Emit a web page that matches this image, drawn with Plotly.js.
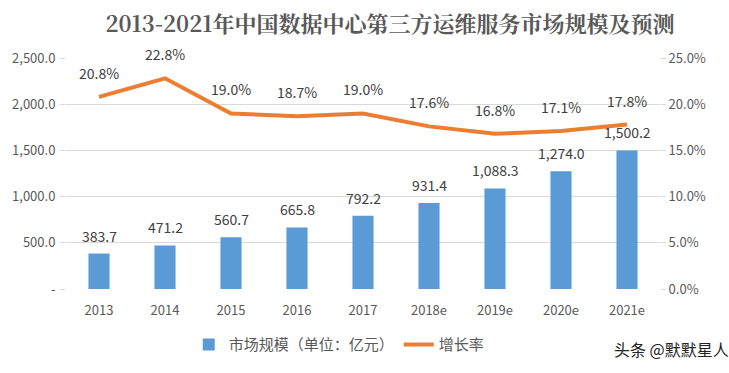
<!DOCTYPE html>
<html><head><meta charset="utf-8">
<script src="https://cdn.plot.ly/plotly-3.0.1.min.js"></script>
<style>body{margin:0;background:#fff}#c{width:729px;height:373px}</style>
</head><body><div id="c"></div>
<script>
const categories = ["2013","2014","2015","2016","2017","2018e","2019e","2020e","2021e"];
const marketSize = [383.7,471.2,560.7,665.8,792.2,931.4,1088.3,1274.0,1500.2];
const growthRate = [20.8,22.8,19.0,18.7,19.0,17.6,16.8,17.1,17.8];
const leftTicks = [0,500,1000,1500,2000,2500];
const leftTickText = ["-","500.0","1,000.0","1,500.0","2,000.0","2,500.0"];
const rightTicks = [0,5,10,15,20,25];
const rightTickText = ["0.0%","5.0%","10.0%","15.0%","20.0%","25.0%"];

const font = "Microsoft YaHei, 'Noto Sans CJK SC', sans-serif";
const labelFont = {size:14,color:"#404040",family:font};
const idx = categories.map((c,i)=>i);
const traces = [
  {type:"bar", x:idx, y:marketSize, name:"市场规模（单位：亿元）", marker:{color:"#5B9BD5"}},
  {type:"scatter", mode:"lines", x:idx, y:growthRate, yaxis:"y2", name:"增长率",
   line:{color:"#ED7D31",width:4}}
];
const annotations = [];
idx.forEach(i=>{
  annotations.push({x:i, y:marketSize[i], xref:"x", yref:"y", showarrow:false, yanchor:"middle", yshift:18,
    text:marketSize[i].toLocaleString("en-US",{minimumFractionDigits:1,maximumFractionDigits:1}), font:labelFont});
  annotations.push({x:i, y:growthRate[i], xref:"x", yref:"y2", showarrow:false, yanchor:"middle", yshift:24,
    text:growthRate[i].toFixed(1)+"%", font:labelFont});
});
annotations.push({text:"头条 @默默星人", xref:"paper", yref:"paper", x:1.12, xanchor:"right", y:-0.2, yanchor:"top",
  showarrow:false, font:{size:16,color:"#222",family:font}});
const layout = {
  width:729, height:373, margin:{l:66,r:69,t:58,b:80},
  paper_bgcolor:"#fff", plot_bgcolor:"#fff",
  title:{text:"<b>2013-2021年中国数据中心第三方运维服务市场规模及预测</b>", x:0.535, xanchor:"center", y:0.955, yanchor:"top",
    font:{size:22,color:"#595959",family:"'Noto Serif CJK SC','Noto Sans CJK SC', serif"}},
  bargap:0.68, showlegend:true,
  legend:{orientation:"h", x:0.46, xanchor:"center", y:-0.17, yanchor:"top", font:{size:15,color:"#595959",family:font}},
  xaxis:{range:[-0.5,8.5], tickvals:idx, ticktext:categories, showgrid:false, zeroline:false, showline:false, ticks:"", ticklabelstandoff:12,
    tickfont:{size:13,color:"#595959",family:font}},
  yaxis:{range:[0,2500], tickvals:leftTicks, ticktext:leftTickText, showgrid:true, gridcolor:"#d9d9d9", zeroline:false,
    tickfont:{size:13,color:"#595959",family:font}, ticks:"outside", ticklen:5, tickcolor:"#d9d9d9", ticklabelstandoff:2},
  yaxis2:{range:[0,25], overlaying:"y", side:"right", tickvals:rightTicks, ticktext:rightTickText, showgrid:false, zeroline:false,
    tickfont:{size:13,color:"#595959",family:font}, ticks:"outside", ticklen:5, tickcolor:"#d9d9d9"},
  annotations:annotations
};
Plotly.newPlot("c", traces, layout, {displayModeBar:false, staticPlot:true});
</script></body></html>
